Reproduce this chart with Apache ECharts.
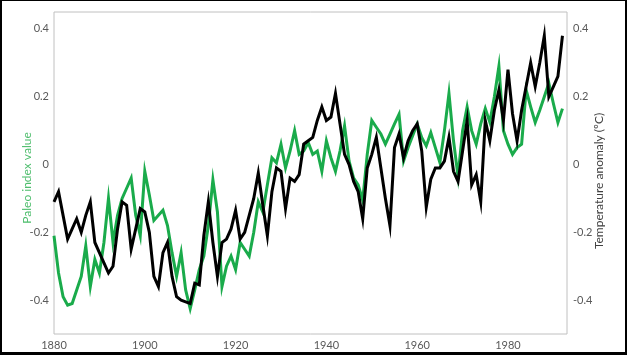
<!DOCTYPE html>
<html>
<head>
<meta charset="utf-8">
<script src="https://cdn.jsdelivr.net/npm/echarts@6/dist/echarts.min.js"></script>
<style>
  html, body { margin: 0; padding: 0; background: #000; }
  #frame { position: absolute; left: 2px; top: 1px; width: 623px; height: 351px; background: #fff; }
  #chart { width: 623px; height: 351px; }
</style>
</head>
<body>
<div id="frame"><div id="chart"></div></div>
<script>
const years = [];
for (let y = 1880; y <= 1992; y++) years.push(y);

const paleoIndex = [
  -0.21, -0.32, -0.39, -0.415, -0.41, -0.37, -0.33, -0.24, -0.36, -0.28,
  -0.32, -0.23, -0.10, -0.23, -0.15, -0.10, -0.07, -0.04, -0.15, -0.21,
  -0.02, -0.09, -0.165, -0.15, -0.135, -0.18, -0.26, -0.33, -0.26, -0.37,
  -0.425, -0.37, -0.31, -0.27, -0.18, -0.045, -0.14, -0.36, -0.30, -0.27,
  -0.31, -0.23, -0.25, -0.27, -0.20, -0.11, -0.14, -0.06, 0.02, 0.005,
  0.06, -0.01, 0.04, 0.10, 0.03, 0.04, 0.065, 0.03, 0.04, -0.02,
  0.07, 0.02, -0.02, 0.04, 0.114, 0.01, -0.04, -0.06, -0.106, 0.03,
  0.13, 0.11, 0.09, 0.06, 0.09, 0.12, 0.148, 0.01, 0.05, 0.085,
  0.12, 0.08, 0.055, 0.094, 0.05, 0.006, 0.10, 0.21, 0.07, -0.035,
  0.10, 0.17, 0.10, 0.06, 0.12, 0.165, 0.125, 0.20, 0.29, 0.10,
  0.06, 0.03, 0.05, 0.06, 0.22, 0.17, 0.124, 0.16, 0.20, 0.24,
  0.18, 0.124, 0.165
];

const tempAnomaly = [
  -0.11, -0.08, -0.15, -0.22, -0.19, -0.16, -0.20, -0.15, -0.11, -0.23,
  -0.26, -0.29, -0.32, -0.30, -0.19, -0.11, -0.12, -0.25, -0.19, -0.13,
  -0.14, -0.20, -0.33, -0.36, -0.26, -0.23, -0.33, -0.39, -0.40, -0.405,
  -0.41, -0.35, -0.355, -0.21, -0.11, -0.23, -0.33, -0.23, -0.22, -0.19,
  -0.135, -0.22, -0.20, -0.15, -0.10, -0.025, -0.12, -0.21, -0.08, -0.01,
  -0.02, -0.13, -0.04, -0.05, -0.03, 0.06, 0.07, 0.08, 0.13, 0.17,
  0.13, 0.14, 0.21, 0.12, 0.03, 0.00, -0.05, -0.08, -0.16, -0.01,
  0.03, 0.08, -0.01, -0.10, -0.18, 0.05, 0.09, 0.02, 0.07, 0.10,
  0.12, 0.04, -0.126, -0.043, -0.01, -0.01, 0.01, 0.08, -0.02, -0.05,
  0.04, 0.13, -0.06, -0.03, -0.11, 0.13, 0.07, 0.16, 0.22, 0.13,
  0.28, 0.15, 0.07, 0.16, 0.23, 0.30, 0.23, 0.30, 0.38, 0.20,
  0.23, 0.26, 0.38
];

const yTickLabels = ['-0.4', '-0.2', '0', '0.2', '0.4'];
const xTickLabels = ['1880', '1900', '1920', '1940', '1960', '1980'];
const leftAxisName = 'Paleo index value';
const rightAxisName = 'Temperature anomaly (ºC)';

const paleoPairs = years.map((y, i) => [y, paleoIndex[i]]);
const tempPairs = years.map((y, i) => [y, tempAnomaly[i]]);

function yLabel(v) {
  const s = String(Math.round(v * 10) / 10);
  return yTickLabels.indexOf(s) >= 0 ? s : '';
}
function xLabel(v) {
  const s = String(Math.round(v));
  return xTickLabels.indexOf(s) >= 0 ? s : '';
}

const labelStyle = { color: '#595959', fontFamily: 'Lato', fontSize: 11 };

const yCommon = {
  type: 'value', min: -0.5, max: 0.45, interval: 0.1,
  axisLine: { show: false }, axisTick: { show: false }, splitLine: { show: false }
};

const chart = echarts.init(document.getElementById('chart'), null, { renderer: 'canvas' });
chart.setOption({
  animation: false,
  backgroundColor: '#fff',
  grid: { left: 52, top: 11, right: 58, bottom: 18, show: true, borderColor: '#c0c0c0', borderWidth: 1, backgroundColor: 'transparent' },
  xAxis: {
    type: 'value', min: 1880, max: 1993, interval: 20,
    axisLine: { show: false }, axisTick: { show: false }, splitLine: { show: false },
    axisLabel: Object.assign({ formatter: xLabel, margin: 6, showMaxLabel: true }, labelStyle)
  },
  yAxis: [
    Object.assign({}, yCommon, {
      position: 'left',
      axisLabel: Object.assign({ formatter: yLabel, margin: 5 }, labelStyle)
    }),
    Object.assign({}, yCommon, {
      position: 'right',
      axisLabel: Object.assign({ formatter: yLabel, margin: 6 }, labelStyle)
    })
  ],
  graphic: [
    { type: 'text', x: 25, y: 177, rotation: Math.PI / 2,
      style: { text: leftAxisName, fill: '#4dbd6c', font: '12px Lato', align: 'center', verticalAlign: 'middle' } },
    { type: 'text', x: 597, y: 180, rotation: Math.PI / 2,
      style: { text: rightAxisName, fill: '#404040', font: '12px Lato', align: 'center', verticalAlign: 'middle' } }
  ],
  series: [
    { name: 'Paleo index', type: 'line', yAxisIndex: 0, data: paleoPairs, showSymbol: false, symbol: 'none',
      lineStyle: { color: '#1aab4b', width: 3, join: 'miter' } },
    { name: 'Temperature anomaly', type: 'line', yAxisIndex: 1, data: tempPairs, showSymbol: false, symbol: 'none',
      lineStyle: { color: '#000000', width: 3, join: 'miter' } }
  ]
});
</script>
</body>
</html>
